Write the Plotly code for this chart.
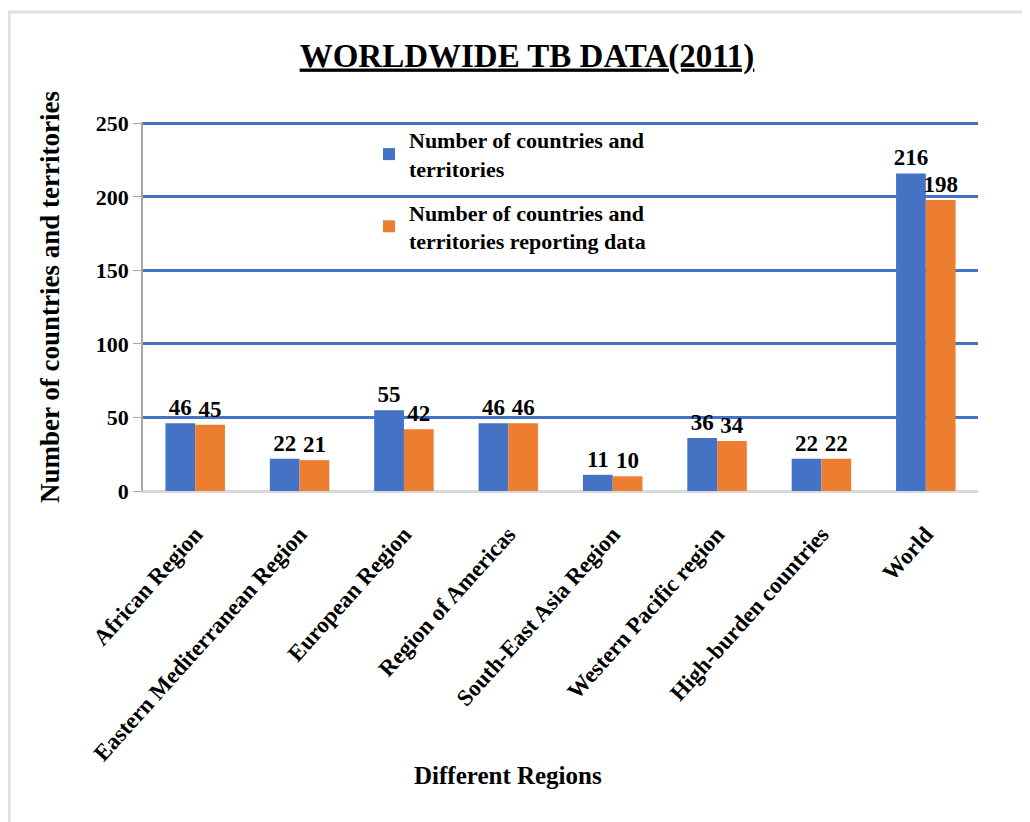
import plotly.graph_objects as go

categories = ["African Region", "Eastern Mediterranean Region", "European Region",
              "Region of Americas", "South-East Asia Region", "Western Pacific region",
              "High-burden countries", "World"]
total = [46, 22, 55, 46, 11, 36, 22, 216]
reporting = [45, 21, 42, 46, 10, 34, 22, 198]
series_names = ["Number of countries and<br>territories",
                "Number of countries and<br>territories reporting data"]
y_ticks = [0, 50, 100, 150, 200, 250]

FONT = "Liberation Serif"
BLUE = "#4472C4"
ORANGE = "#ED7D31"

fig = go.Figure()
for i, (name, vals, col) in enumerate([(series_names[0], total, BLUE),
                                       (series_names[1], reporting, ORANGE)]):
    fig.add_trace(go.Bar(
        x=categories, y=vals, name=f"<b>{name.replace('<br>', '</b><br><b>')}</b>",
        legendgroup=f"g{i}",
        marker=dict(color=col, line=dict(width=0)),
        text=[f"<b>{v}</b>" for v in vals],
        textposition="outside", constraintext="none",
        textfont=dict(family=FONT, size=23, color="black"), cliponaxis=False,
    ))

# page has 8px body margin: figure origin sits at page (8, 8)
OFF = 8
W, H = 1030 - OFF, 822 - OFF
L, T = 143 - OFF, 122 - OFF
R = W - (978 - OFF)
B = H - (491 - OFF)
pw, ph = W - L - R, H - T - B

def px(x):
    return (x - OFF - L) / pw

def py(y):
    return (H - B - (y - OFF)) / ph

fig.update_layout(
    width=W, height=H,
    margin=dict(l=L, r=R, t=T, b=B, autoexpand=False),
    paper_bgcolor="white", plot_bgcolor="white",
    barmode="group", bargap=0.43, bargroupgap=0,
    font=dict(family=FONT, color="black"),
    title=dict(text="<b><u>WORLDWIDE TB DATA(2011)</u></b>", x=(527 - OFF) / W,
               xanchor="center", y=1 - (55 - OFF) / H, yanchor="middle",
               font=dict(family=FONT, size=33, color="black")),
    showlegend=True,
    legend=dict(x=px(369), y=py(119), xanchor="left", yanchor="top",
                bgcolor="rgba(0,0,0,0)", font=dict(family=FONT, size=22, color="black"),
                tracegroupgap=12, itemwidth=30, traceorder="grouped"),
    xaxis=dict(tickangle=-48, tickmode="array", tickvals=categories,
               ticktext=[f"<b>{c}</b>" for c in categories],
               tickfont=dict(family=FONT, size=23, color="black"),
               ticks="outside", ticklen=19, tickcolor="rgba(255,255,255,0)",
               showline=True, linecolor="#D9D9D9", linewidth=1.5),
    yaxis=dict(range=[0, 251], tickmode="array", tickvals=y_ticks,
               ticktext=[f"<b>{v}</b>" for v in y_ticks],
               tickfont=dict(family=FONT, size=22, color="black"),
               showgrid=True, gridcolor=BLUE, gridwidth=3,
               zeroline=True, zerolinecolor="#D9D9D9", zerolinewidth=1.5,
               showline=True, linecolor="#A6A6A6", linewidth=1.5,
               ticks="outside", ticklen=8, tickcolor="#A6A6A6"),
    annotations=[
        dict(text="<b>Different Regions</b>", xref="paper", yref="paper",
             x=px(508), y=py(775), xanchor="center", yanchor="middle", showarrow=False,
             font=dict(family=FONT, size=25, color="black")),
        dict(text="<b>Number of countries and territories</b>", xref="paper", yref="paper",
             x=px(50), y=py(297), xanchor="center", yanchor="middle", showarrow=False,
             textangle=-90, font=dict(family=FONT, size=27, color="black")),
    ],
    shapes=[
        dict(type="line", xref="paper", yref="paper", x0=px(9), x1=px(9), y0=py(11), y1=py(830),
             line=dict(color="#E0E0E0", width=3)),
        dict(type="line", xref="paper", yref="paper", x0=px(8), x1=px(1040), y0=py(12), y1=py(12),
             line=dict(color="#E0E0E0", width=3)),
    ],
)

fig.write_html("out.html")
